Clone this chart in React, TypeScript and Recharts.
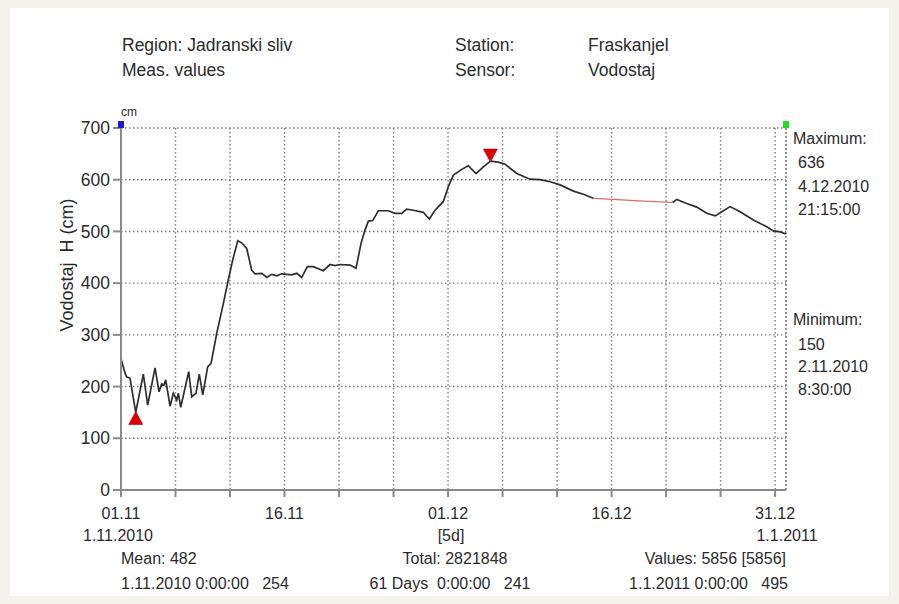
import React from 'react';
import { LineChart, Line, XAxis, YAxis, CartesianGrid, ReferenceDot, ReferenceLine } from 'recharts';

// ---- data (day offset from 1.11.2010 00:00, water level in cm) ----
const measDays = [
  0, 0.37, 0.52, 0.83, 1.35, 2.05, 2.45, 3.12, 3.49, 3.73, 3.94, 4.1, 4.5, 4.8, 5.11, 5.26, 5.48,
  6.21, 6.49, 6.88, 7.18, 7.5, 7.95, 8.26, 8.78, 9.39, 9.84, 10.25, 10.71, 11.07, 11.53, 11.99,
  12.29, 12.91, 13.37, 13.83, 14.28, 14.74, 15.66, 16.12, 16.58, 17.09, 17.64, 18.56, 19.17,
  19.63, 20.09, 21.01, 21.56, 22.02, 22.39, 22.69, 23.09, 23.61, 24.52, 25.14, 25.75, 26.21,
  26.82, 27.73, 28.28, 28.81, 29.57, 30.03, 30.49, 31.26, 31.86, 32.57, 33.24, 33.89, 34.61,
  35.23, 36.3, 37.52, 38.44, 39.36, 40.28, 41.5, 42.41, 43.33,
];
const measLevels = [
  254, 226, 219, 216, 150, 224, 164, 236, 190, 205, 203, 213, 162, 187, 174, 187, 160,
  229, 180, 187, 224, 184, 238, 245, 303, 361, 406, 445, 482, 478, 467, 425,
  418, 419, 411, 417, 414, 418, 416, 419, 411, 432, 432, 424, 436,
  434, 436, 435, 429, 477, 503, 520, 521, 540, 540, 535, 535, 543,
  541, 537, 524, 541, 558, 587, 609, 620, 627, 612, 625, 636, 634,
  630, 612, 601, 600, 596, 590, 578, 572, 564,
];
const gapDays = [43.33, 45.14, 47.5, 50.6];
const gapLevels = [564, 562, 559, 556];
const tailDays = [50.6, 50.98, 51.9, 52.81, 53.73, 54.5, 55.11, 55.87, 56.79, 58.01, 59.24, 59.84, 60.46, 61];
const tailLevels = [556, 562, 554, 547, 535, 530, 538, 548, 538, 522, 509, 501, 499, 495];

const xTicks = [0, 5, 10, 15, 20, 25, 30, 35, 40, 45, 50, 55, 60];
const xTickLabels: Record<number, string> = { 0: '01.11', 15: '16.11', 30: '01.12', 45: '16.12', 60: '31.12' };
const yTicks = [0, 100, 200, 300, 400, 500, 600, 700];

const maxPoint = { day: 33.885, level: 636 };
const minPoint = { day: 1.354, level: 150 };

const mainRows = [
  ...measDays.map((t, i) => ({ t, h: measLevels[i] })),
  { t: 47, h: null },
  ...tailDays.map((t, i) => ({ t, h: tailLevels[i] })),
];
const gapRows = gapDays.map((t, i) => ({ t, g: gapLevels[i] }));

const FONT = '"Liberation Sans", Arial, Helvetica, sans-serif';
const TXT = '#2b2b2b';
const AXIS = '#8a8a8a';

function T({ x, y, children, align = 'left', size = 16 }: { x: number; y: number; children: React.ReactNode; align?: 'left' | 'center' | 'right'; size?: number }) {
  const tx = align === 'left' ? '0' : align === 'center' ? '-50%' : '-100%';
  return (
    <div
      style={{
        position: 'absolute',
        left: x,
        top: y,
        transform: `translate(${tx}, -50%)`,
        fontFamily: FONT,
        fontSize: size,
        color: TXT,
        whiteSpace: 'pre',
        lineHeight: 1.15,
      }}
    >
      {children}
    </div>
  );
}

const TriUp = (props: any) => {
  const { cx, cy } = props;
  return <path d={`M${cx},${cy - 1} L${cx + 7},${cy + 12} L${cx - 7},${cy + 12} Z`} fill="#e00000" stroke="#900" strokeWidth={0.6} />;
};
const TriDown = (props: any) => {
  const { cx, cy } = props;
  return <path d={`M${cx},${cy + 1} L${cx + 7},${cy - 12} L${cx - 7},${cy - 12} Z`} fill="#e00000" stroke="#900" strokeWidth={0.6} />;
};
const Square = (color: string) => (props: any) => {
  const { cx, cy } = props;
  return <rect x={cx - 3} y={cy - 7} width={6} height={7} fill={color} />;
};

export default function App() {
  return (
    <div style={{ position: 'absolute', left: 0, top: 0, width: 899, height: 604, background: '#f3f2ec', overflow: 'hidden' }}>
      <div style={{ position: 'absolute', left: 10, top: 8, width: 879, height: 588, background: '#ffffff' }} />
      <div style={{ position: 'absolute', left: 0, top: 0 }}>
        <LineChart width={899} height={604} margin={{ top: 128, right: 113, bottom: 0, left: 0 }}>
          <CartesianGrid stroke="#7a7a7a" strokeWidth={1.4} strokeDasharray="1.5 2.5" vertical horizontal />
          <XAxis
            dataKey="t"
            type="number"
            domain={[0, 61]}
            ticks={xTicks}
            height={114}
            tickSize={7}
            tickMargin={11}
            tickLine={{ stroke: AXIS, strokeWidth: 2 }}
            axisLine={{ stroke: AXIS, strokeWidth: 2 }}
            tick={{ fill: TXT, fontSize: 16, fontFamily: FONT }}
            tickFormatter={(v: number) => xTickLabels[v] ?? ''}
            allowDuplicatedCategory={false}
            interval={0}
          />
          <YAxis
            type="number"
            domain={[0, 700]}
            ticks={yTicks}
            width={121}
            tickSize={8}
            tickMargin={3}
            tickLine={{ stroke: AXIS, strokeWidth: 2 }}
            axisLine={{ stroke: AXIS, strokeWidth: 2 }}
            tick={{ fill: TXT, fontSize: 17.5, fontFamily: FONT }}
            interval={0}
          />
          <ReferenceLine x={61} stroke="#7a7a7a" strokeWidth={1.4} strokeDasharray="1.5 2.5" />
          <Line data={gapRows} dataKey="g" type="linear" stroke="#e06a6a" strokeWidth={1.3} dot={false} isAnimationActive={false} />
          <Line data={mainRows} dataKey="h" type="linear" stroke="#2e2e2e" strokeWidth={1.7} dot={false} connectNulls={false} isAnimationActive={false} />
          <ReferenceDot x={minPoint.day} y={minPoint.level} r={0} ifOverflow="visible" shape={TriUp} />
          <ReferenceDot x={maxPoint.day} y={maxPoint.level} r={0} ifOverflow="visible" shape={TriDown} />
          <ReferenceDot x={0} y={700} r={0} ifOverflow="visible" shape={Square('#1a1ad6')} />
          <ReferenceDot x={61} y={700} r={0} ifOverflow="visible" shape={Square('#22dd22')} />
        </LineChart>
      </div>

      {/* header */}
      <T x={122} y={45} size={17.5}>Region: Jadranski sliv</T>
      <T x={122} y={70} size={17.5}>Meas. values</T>
      <T x={455} y={45} size={17.5}>Station:</T>
      <T x={455} y={70} size={17.5}>Sensor:</T>
      <T x={588} y={45} size={17.5}>Fraskanjel</T>
      <T x={588} y={70} size={17.5}>Vodostaj</T>

      <T x={121} y={113} size={12}>cm</T>

      {/* y axis title */}
      <div
        style={{
          position: 'absolute',
          left: 67,
          top: 265,
          transform: 'translate(-50%, -50%) rotate(-90deg)',
          fontFamily: FONT,
          fontSize: 18,
          color: TXT,
          whiteSpace: 'pre',
        }}
      >
        {'Vodostaj  H (cm)'}
      </div>

      {/* x axis second line */}
      <T x={118} y={536} align="center">1.11.2010</T>
      <T x={451} y={536} align="center">[5d]</T>
      <T x={787} y={536} align="center">1.1.2011</T>

      {/* statistics */}
      <T x={121} y={559}>Mean: 482</T>
      <T x={121} y={584}>{'1.11.2010 0:00:00   254'}</T>
      <T x={455} y={559} align="center">Total: 2821848</T>
      <T x={450} y={584} align="center">{'61 Days  0:00:00   241'}</T>
      <T x={786} y={559} align="right">Values: 5856 [5856]</T>
      <T x={788} y={584} align="right">{'1.1.2011 0:00:00   495'}</T>

      {/* right side */}
      <T x={793} y={139}>Maximum:</T>
      <T x={798} y={163}>636</T>
      <T x={798} y={187}>4.12.2010</T>
      <T x={798} y={210}>21:15:00</T>
      <T x={793} y={320}>Minimum:</T>
      <T x={798} y={345}>150</T>
      <T x={798} y={367}>2.11.2010</T>
      <T x={798} y={390}>8:30:00</T>
    </div>
  );
}
